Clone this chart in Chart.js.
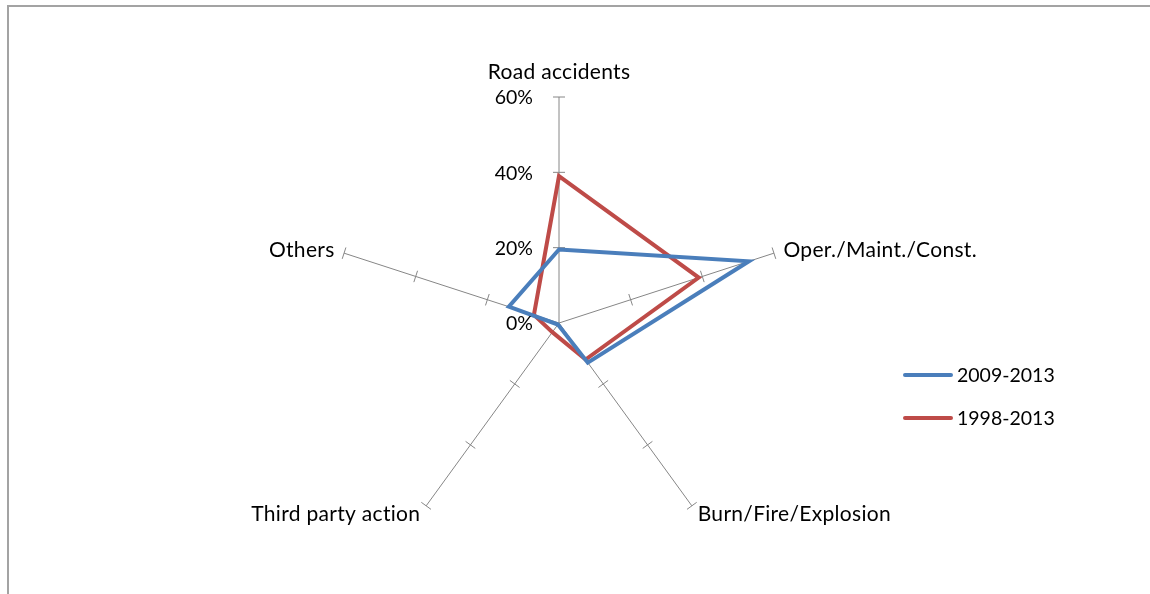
<!DOCTYPE html>
<html>
<head>
<meta charset="utf-8">
<script src="https://cdn.jsdelivr.net/npm/chart.js@4.4.1/dist/chart.umd.min.js"></script>
<style>
  html, body { margin: 0; padding: 0; background: #ffffff; }
  #wrap { position: relative; width: 1150px; height: 594px; overflow: hidden; }
  #frame { position: absolute; left: 7px; top: 5px; width: 1300px; height: 800px;
           border-top: 2px solid #a3a3a3; border-left: 2px solid #a3a3a3; }
  #c { position: absolute; left: 0; top: 0; }
</style>
</head>
<body>
<div id="wrap">
  <div id="frame"></div>
  <canvas id="c" width="1150" height="594"></canvas>
</div>
<script>
// Accident categories and share of incidents (%) per period
const categories = ['Road accidents', 'Oper./Maint./Const.', 'Burn/Fire/Explosion', 'Third party action', 'Others'];
const seriesNames = ['2009-2013', '1998-2013'];
const values2009 = [19.5, 53, 13, 0.5, 14];
const values1998 = [39, 39, 12, 3, 7];
const tickValues = [0, 20, 40, 60];
const tickLabels = ['0%', '20%', '40%', '60%'];

const LABEL_FONT = '21px Lato, "Liberation Sans", sans-serif';
const NUM_FONT = '19.5px Lato, "Liberation Sans", sans-serif';
const AXIS_GREY = '#868686';

// Tick marks across every spoke, value labels on the vertical spoke,
// category labels at the spoke ends and a line legend on the right.
const radarDecor = {
  id: 'radarDecor',
  beforeDatasetsDraw(chart) {
    const scale = chart.scales.r;
    const ctx = chart.ctx;
    ctx.save();
    ctx.strokeStyle = AXIS_GREY;
    ctx.lineWidth = 1;
    for (let i = 0; i < categories.length; i++) {
      const a = scale.getIndexAngle(i) - Math.PI / 2;
      const px = -Math.sin(a), py = Math.cos(a);
      tickValues.forEach(v => {
        if (v === 0) return;
        const p = scale.getPointPositionForValue(i, v);
        ctx.beginPath();
        ctx.moveTo(p.x - px * 6, p.y - py * 6);
        ctx.lineTo(p.x + px * 6, p.y + py * 6);
        ctx.stroke();
      });
    }
    ctx.restore();
  },
  afterDraw(chart) {
    const scale = chart.scales.r;
    const ctx = chart.ctx;
    ctx.save();
    ctx.fillStyle = '#000000';

    // value labels beside the first spoke
    ctx.font = NUM_FONT;
    ctx.textAlign = 'right';
    ctx.textBaseline = 'middle';
    tickValues.forEach((v, k) => {
      const p = scale.getPointPositionForValue(0, v);
      ctx.fillText(tickLabels[k], p.x - 26, p.y + 1);
    });

    // category labels
    ctx.font = LABEL_FONT;
    ctx.letterSpacing = '0.3px';
    categories.forEach((label, i) => {
      const a = scale.getIndexAngle(i) - Math.PI / 2;
      const p = scale.getPointPosition(i, scale.drawingArea + 10);
      const cx = Math.cos(a);
      ctx.textBaseline = 'middle';
      if (Math.abs(cx) < 0.01) {
        ctx.textAlign = 'center';
        ctx.fillText(label, p.x, p.y - 15);
      } else {
        ctx.textAlign = cx > 0 ? 'left' : 'right';
        ctx.fillText(label, p.x, p.y);
      }
    });
    ctx.letterSpacing = '0px';

    // legend
    ctx.font = NUM_FONT;
    ctx.textAlign = 'left';
    ctx.textBaseline = 'middle';
    chart.data.datasets.forEach((ds, k) => {
      const y = 375 + k * 43;
      ctx.strokeStyle = ds.borderColor;
      ctx.lineWidth = 4;
      ctx.lineCap = 'round';
      ctx.beginPath();
      ctx.moveTo(905, y);
      ctx.lineTo(951, y);
      ctx.stroke();
      ctx.fillText(ds.label, 957, y + 1);
    });
    ctx.restore();
  }
};

new Chart(document.getElementById('c'), {
  type: 'radar',
  data: {
    labels: categories,
    datasets: [
      { label: seriesNames[0], data: values2009, borderColor: '#4A7EBB', borderWidth: 4,
        backgroundColor: 'rgba(0,0,0,0)', fill: false, pointRadius: 0, pointHoverRadius: 0,
        tension: 0, borderJoinStyle: 'miter' },
      { label: seriesNames[1], data: values1998, borderColor: '#BE4B48', borderWidth: 4,
        backgroundColor: 'rgba(0,0,0,0)', fill: false, pointRadius: 0, pointHoverRadius: 0,
        tension: 0, borderJoinStyle: 'miter' }
    ]
  },
  options: {
    responsive: false,
    animation: false,
    devicePixelRatio: 1,
    layout: { padding: { left: 333, top: 97, right: 365, bottom: 45 } },
    plugins: { legend: { display: false }, tooltip: { enabled: false } },
    scales: {
      r: {
        min: 0,
        max: 60,
        ticks: { display: false, stepSize: 20 },
        grid: { display: false },
        angleLines: { display: true, color: AXIS_GREY, lineWidth: 1 },
        pointLabels: { display: false }
      }
    }
  },
  plugins: [radarDecor]
});
</script>
</body>
</html>
